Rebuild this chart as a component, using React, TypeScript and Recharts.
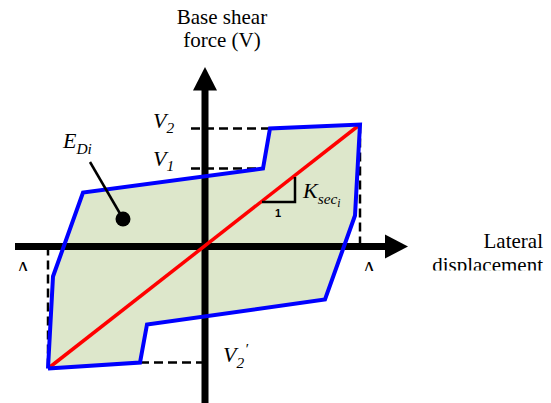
import React from "react";
import { ScatterChart, Scatter, XAxis, YAxis, ReferenceDot } from "recharts";

const W = 551;
const H = 403;

// hysteresis loop: lateral displacement vs base shear (schematic units), traced
// along the upper branch then back along the lower branch
const loopDisp = [-157, -152, -122, 58, 65, 155, 150, 120, -58, -65, -157];
const loopShear = [-122, -30, 54, 78, 118, 122, 31, -53, -78, -116, -122];

// secant stiffness line between the two peaks
const secantDisp = [-157, 155];
const secantShear = [-122, 122];

// dashed guides
const v2Disp = [-14, 65];
const v2Shear = [118, 118];
const v1Disp = [-14, 58];
const v1Shear = [78, 78];
const v2pDisp = [-65, 0];
const v2pShear = [-116, -116];
const dPosDisp = [155, 155];
const dPosShear = [122, 0];
const dNegDisp = [-157, -157];
const dNegShear = [0, -122];

// axes
const xAxisDisp = [-190, 182];
const xAxisShear = [0, 0];
const xArrowDisp = [180, 203, 180];
const xArrowShear = [12, 0, -12];
const yAxisDisp = [0, 0];
const yAxisShear = [-157, 158];
const yArrowDisp = [-12, 0, 12];
const yArrowShear = [156, 179.5, 156];

// slope triangle and E_Di leader
const slopeDisp = [57, 90, 90];
const slopeShear = [44.5, 44.5, 69.5];
const leaderDisp = [-115, -83];
const leaderShear = [84.5, 29.5];

const FILL = "#dde7cb";
const BLUE = "#0000ff";
const RED = "#ff0000";
const SERIF = "'Liberation Serif', 'Times New Roman', serif";

const toPts = (xs: number[], ys: number[]) => xs.map((x, i) => ({ x, y: ys[i] }));
const noMark = () => <g />;

function path(key: string, xs: number[], ys: number[], line: Record<string, unknown>) {
  return (
    <Scatter
      key={key}
      data={toPts(xs, ys)}
      line={line}
      shape={noMark}
      isAnimationActive={false}
      legendType="none"
    />
  );
}

type LblProps = {
  viewBox?: { x: number; y: number };
  base: string;
  sub?: string;
  subsub?: string;
  prime?: boolean;
  size?: number;
  italic?: boolean;
  anchor?: "start" | "middle" | "end";
  family?: string;
  weight?: string;
  clipDy?: number;
};

function Lbl({
  viewBox,
  base,
  sub,
  subsub,
  prime,
  size = 22,
  italic = true,
  anchor = "start",
  family = SERIF,
  weight,
  clipDy,
}: LblProps) {
  if (!viewBox) return null;
  const { x, y } = viewBox;
  const s = size * 0.7;
  const txt = (
    <text
      x={x}
      y={y}
      fontFamily={family}
      fontSize={size}
      fontStyle={italic ? "italic" : "normal"}
      fontWeight={weight}
      textAnchor={anchor}
      fill="#000"
    >
      {base}
      {sub && (
        <tspan fontSize={s} dy={size * 0.25}>
          {sub}
        </tspan>
      )}
      {prime && (
        <tspan fontSize={s} dx={0.5} dy={-size * 0.62}>
          ′
        </tspan>
      )}
      {subsub && (
        <tspan fontSize={s * 0.75} dy={size * 0.18}>
          {subsub}
        </tspan>
      )}
    </text>
  );
  if (clipDy === undefined) return txt;
  return (
    <svg x={0} y={0} width={W} height={y + clipDy} overflow="hidden">
      {txt}
    </svg>
  );
}

function label(key: string, x: number, y: number, props: Omit<LblProps, "viewBox">) {
  return (
    <ReferenceDot
      key={key}
      x={x}
      y={y}
      r={0}
      fill="none"
      stroke="none"
      label={<Lbl {...props} />}
    />
  );
}

export default function App() {
  return (
    <div style={{ position: "absolute", left: 0, top: 0, width: W, height: H, background: "#fff" }}>
      <ScatterChart width={W} height={H} margin={{ top: 0, right: 0, bottom: 0, left: 0 }}>
        <XAxis type="number" dataKey="x" domain={[-205, 346]} allowDataOverflow hide />
        <YAxis type="number" dataKey="y" domain={[-156.5, 246.5]} allowDataOverflow hide />

        {path("fill", loopDisp, loopShear, { fill: FILL, stroke: "none" })}

        {path("xaxis", xAxisDisp, xAxisShear, { stroke: "#000", strokeWidth: 7 })}
        {path("xarrow", xArrowDisp, xArrowShear, { fill: "#000", stroke: "none" })}
        {path("yaxis", yAxisDisp, yAxisShear, { stroke: "#000", strokeWidth: 7 })}
        {path("yarrow", yArrowDisp, yArrowShear, { fill: "#000", stroke: "none" })}

        {path("v2", v2Disp, v2Shear, { stroke: "#000", strokeWidth: 2.5, strokeDasharray: "9 5" })}
        {path("v1", v1Disp, v1Shear, { stroke: "#000", strokeWidth: 2.5, strokeDasharray: "9 5" })}
        {path("v2p", v2pDisp, v2pShear, { stroke: "#000", strokeWidth: 2.5, strokeDasharray: "9 5" })}
        {path("dpos", dPosDisp, dPosShear, { stroke: "#000", strokeWidth: 2.5, strokeDasharray: "9 5" })}
        {path("dneg", dNegDisp, dNegShear, { stroke: "#000", strokeWidth: 2.5, strokeDasharray: "9 5" })}

        {path("secant", secantDisp, secantShear, { stroke: RED, strokeWidth: 3.5 })}
        {path("loop", loopDisp, loopShear, { stroke: BLUE, strokeWidth: 4, strokeLinejoin: "miter" })}

        {path("slope", slopeDisp, slopeShear, { stroke: "#000", strokeWidth: 2.5 })}
        {path("leader", leaderDisp, leaderShear, { stroke: "#000", strokeWidth: 2.5 })}
        <ReferenceDot x={-82} y={27.5} r={7.5} fill="#000" stroke="none" />

        {label("bs1", 17, 222.5, { base: "Base shear", italic: false, anchor: "middle", size: 21 })}
        {label("bs2", 17, 199.5, { base: "force (V)", italic: false, anchor: "middle", size: 21 })}
        {label("ld1", 338, -1.5, { base: "Lateral", italic: false, anchor: "end", size: 21 })}
        {label("ld2", 338, -25, { base: "displacement", italic: false, anchor: "end", size: 21, clipDy: -1 })}

        {label("V2", -52, 119, { base: "V", sub: "2" })}
        {label("V1", -52, 81, { base: "V", sub: "1" })}
        {label("V2p", 18, -115.5, { base: "V", sub: "2", prime: true })}
        {label("EDi", -142, 98.5, { base: "E", sub: "Di" })}
        {label("Ksec", 98, 48.5, { base: "K", sub: "sec", subsub: "i" })}
        {label("one", 73, 29.5, {
          base: "1",
          italic: false,
          anchor: "middle",
          size: 11,
          family: "'Liberation Sans', Arial, sans-serif",
          weight: "bold",
        })}

        {label("dneg_l", -188, -28.5, { base: "Δ", sub: "−", italic: false, size: 19, clipDy: -4 })}
        {label("dpos_l", 158, -28.5, { base: "Δ", sub: "+", italic: false, size: 19, clipDy: -4 })}
      </ScatterChart>
    </div>
  );
}
